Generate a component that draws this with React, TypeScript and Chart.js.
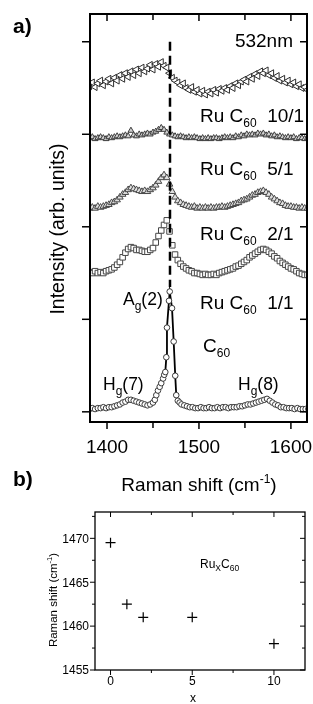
import { useEffect, useRef } from "react";
import { Chart, registerables } from "chart.js";
Chart.register(...registerables);

// ---------- panel a data ----------
const RAMAN_X = [
  1381, 1384, 1387, 1390, 1393, 1396, 1399, 1402, 1405, 1408,
  1411, 1414, 1417, 1420, 1423, 1426, 1429, 1432, 1435, 1438,
  1441, 1444, 1447, 1450, 1453, 1456, 1459, 1462, 1465, 1468,
  1471, 1474, 1477, 1480, 1483, 1486, 1489, 1492, 1495, 1498,
  1501, 1504, 1507, 1510, 1513, 1516, 1519, 1522, 1525, 1528,
  1531, 1534, 1537, 1540, 1543, 1546, 1549, 1552, 1555, 1558,
  1561, 1564, 1567, 1570, 1573, 1576, 1579, 1582, 1585, 1588,
  1591, 1594, 1597, 1600, 1603, 1606, 1609, 1612, 1615, 1618,
];
const RU_10_1 = [
  3.52, 3.56, 3.51, 3.55, 3.58, 3.53, 3.57, 3.6, 3.55, 3.61,
  3.58, 3.64, 3.6, 3.66, 3.62, 3.68, 3.64, 3.7, 3.66, 3.72,
  3.68, 3.71, 3.75, 3.7, 3.76, 3.73, 3.78, 3.74, 3.72, 3.66,
  3.61, 3.58, 3.56, 3.53, 3.55, 3.5, 3.48, 3.51, 3.46, 3.48,
  3.44, 3.47, 3.43, 3.46, 3.44, 3.48, 3.45, 3.49, 3.47, 3.5,
  3.48, 3.52, 3.5, 3.55, 3.53, 3.57, 3.59, 3.57, 3.62, 3.6,
  3.65, 3.63, 3.68, 3.66, 3.69, 3.64, 3.66, 3.61, 3.63, 3.58,
  3.6, 3.56, 3.58, 3.54, 3.56, 3.52, 3.54, 3.5, 3.51, 3.48,
];
const RU_5_1 = [
  2.96, 2.97, 2.95, 2.96, 2.97, 2.96, 2.95, 2.97, 2.96, 2.97,
  2.98, 2.97, 2.98, 2.99, 2.98, 3.04, 2.99, 2.98, 3.0, 2.99,
  3.0, 3.01, 3.0, 3.02, 3.03, 3.05, 3.07, 3.05, 3.02, 3.0,
  2.99, 2.98, 2.97, 2.98, 2.97, 2.96, 2.97, 2.96, 2.97, 2.96,
  2.95, 2.96, 2.95, 2.96, 2.95, 2.96, 2.96, 2.95, 2.96, 2.97,
  2.96, 2.97, 2.96, 2.98, 2.97, 2.99, 2.98, 3.0, 2.99, 3.0,
  2.99, 3.01, 3.0, 3.01, 2.99, 3.0, 2.98, 2.99, 2.97, 2.98,
  2.97, 2.96, 2.97, 2.96, 2.97, 2.95, 2.96, 2.96, 2.95, 2.96,
];
const RU_2_1 = [
  2.2, 2.21, 2.2, 2.22, 2.21, 2.22, 2.23, 2.24, 2.26, 2.27,
  2.29, 2.32, 2.35, 2.37, 2.4, 2.42, 2.41, 2.4, 2.39, 2.38,
  2.39, 2.38, 2.4, 2.42, 2.45, 2.49, 2.53, 2.56, 2.53, 2.46,
  2.38, 2.32, 2.28, 2.26, 2.24, 2.23, 2.22, 2.21, 2.22, 2.2,
  2.21, 2.2, 2.21, 2.2, 2.21, 2.2, 2.21, 2.21, 2.22, 2.21,
  2.22, 2.23, 2.24, 2.25, 2.26, 2.28, 2.29, 2.3, 2.32, 2.34,
  2.35, 2.37, 2.38, 2.39, 2.37, 2.35, 2.32, 2.3, 2.28, 2.26,
  2.25, 2.23, 2.22, 2.22, 2.21, 2.21, 2.2, 2.21, 2.2, 2.2,
];
const RU_1_1 = [
  1.51, 1.5, 1.52, 1.5, 1.51, 1.5, 1.52, 1.53, 1.54, 1.56,
  1.59, 1.62, 1.67, 1.72, 1.76, 1.78, 1.77, 1.75, 1.75, 1.74,
  1.73, 1.73, 1.75, 1.77, 1.83, 1.9, 1.96, 2.02, 2.07, 1.95,
  1.8, 1.7, 1.64, 1.6, 1.57, 1.55, 1.53, 1.52, 1.5, 1.5,
  1.49, 1.48, 1.49, 1.48, 1.48, 1.49, 1.48, 1.5, 1.51, 1.52,
  1.53, 1.54, 1.55, 1.57, 1.58, 1.6, 1.62, 1.64, 1.67, 1.69,
  1.71, 1.73, 1.75, 1.76, 1.75, 1.73, 1.71, 1.68, 1.66, 1.63,
  1.61, 1.59, 1.57, 1.55, 1.54, 1.52, 1.5, 1.49, 1.48, 1.48,
];
const C60_X = [
  1381, 1384, 1387, 1390, 1393, 1396, 1399, 1402, 1405, 1408,
  1411, 1414, 1417, 1420, 1423, 1426, 1429, 1432, 1435, 1438,
  1441, 1444, 1447, 1450,
  1452, 1453.6, 1455.4, 1457.3, 1459, 1461, 1462.2, 1463.4, 1464.5, 1465.2,
  1467.4, 1468.2, 1470.7, 1472.5, 1474.2, 1475.3, 1477, 1479, 1481,
  1484, 1487, 1490, 1493, 1496, 1499, 1502, 1505, 1508, 1511,
  1514, 1517, 1520, 1523, 1526, 1529, 1532, 1535, 1538, 1541,
  1544, 1547, 1550, 1553, 1556, 1559, 1562, 1565, 1568, 1571,
  1574, 1577, 1580, 1583, 1586, 1589, 1592, 1595, 1598, 1601,
  1604, 1607, 1610, 1613, 1616, 1619,
];
const C60_Y = [
  0.03, 0.04, 0.03, 0.04, 0.04, 0.05, 0.04, 0.05, 0.05, 0.06,
  0.07, 0.08, 0.1, 0.11, 0.13, 0.13, 0.12, 0.11, 0.1, 0.09,
  0.08, 0.07, 0.08, 0.1,
  0.13, 0.18, 0.23, 0.27, 0.31, 0.36, 0.4, 0.43, 0.59, 0.91,
  1.2, 1.3, 1.12, 0.76, 0.39, 0.18, 0.12, 0.1, 0.08,
  0.07, 0.06, 0.05, 0.05, 0.04, 0.04, 0.05, 0.04, 0.04, 0.05,
  0.04, 0.04, 0.05, 0.04, 0.05, 0.05, 0.04, 0.05, 0.05, 0.05,
  0.06, 0.06, 0.07, 0.08, 0.08, 0.09, 0.1, 0.11, 0.12, 0.13,
  0.14, 0.12, 0.1, 0.08, 0.07, 0.05, 0.05, 0.04, 0.04, 0.04,
  0.03, 0.04, 0.03, 0.03, 0.03, 0.03,
];
const AG2_LINE_X = [1468.5, 1468.5];
const AG2_LINE_Y = [4.0, 1.35];
const A_X_TICKS = [1400, 1500, 1600];
const A_X_MINOR = [1450, 1550];
const A_Y_TICKS = [0, 1, 2, 3, 4];

// ---------- panel b data ----------
const COMPOSITION_X = [0, 1, 2, 5, 10];
const SHIFT_Y = [1469.5, 1462.5, 1461, 1461, 1458];
const B_X_TICKS = [0, 5, 10];
const B_X_MINOR = [2.5, 7.5];
const B_Y_TICKS = [1455, 1460, 1465, 1470];
const B_Y_MINOR = [1457.5, 1462.5, 1467.5, 1472.5];

const FONT = '"Liberation Sans", Arial, Helvetica, sans-serif';

type Run = { t: string; size: number; dy?: number; bold?: boolean };

function fontOf(r: Run) {
  return `${r.bold ? "bold " : ""}${r.size}px ${FONT}`;
}
function drawRuns(ctx: CanvasRenderingContext2D, runs: Run[], x: number, y: number, align: "left" | "center" | "right") {
  let w = 0;
  for (const r of runs) {
    ctx.font = fontOf(r);
    w += ctx.measureText(r.t).width;
  }
  let cx = align === "left" ? x : align === "center" ? x - w / 2 : x - w;
  ctx.textAlign = "left";
  ctx.textBaseline = "alphabetic";
  ctx.fillStyle = "#000";
  for (const r of runs) {
    ctx.font = fontOf(r);
    ctx.fillText(r.t, cx, y + (r.dy || 0));
    cx += ctx.measureText(r.t).width;
  }
}
function drawRotated(ctx: CanvasRenderingContext2D, runs: Run[], x: number, y: number) {
  ctx.save();
  ctx.translate(x, y);
  ctx.rotate(-Math.PI / 2);
  drawRuns(ctx, runs, 0, 0, "center");
  ctx.restore();
}
function seg(ctx: CanvasRenderingContext2D, x1: number, y1: number, x2: number, y2: number) {
  ctx.beginPath();
  ctx.moveTo(x1, y1);
  ctx.lineTo(x2, y2);
  ctx.stroke();
}
const pairs = (xs: number[], ys: number[]) => xs.map((x, i) => ({ x, y: ys[i] }));

const panelAPlugin = {
  id: "panelA",
  afterDraw(chart: any) {
    const ctx: CanvasRenderingContext2D = chart.ctx;
    const xs = chart.scales.x;
    const ys = chart.scales.y;
    const { left, right, top, bottom } = chart.chartArea;
    ctx.save();
    ctx.strokeStyle = "#000";
    ctx.lineWidth = 1.5;
    for (const v of A_X_TICKS) {
      const p = xs.getPixelForValue(v);
      seg(ctx, p, bottom, p, bottom + 7);
      seg(ctx, p, top, p, top + 7);
    }
    for (const v of A_X_MINOR) {
      const p = xs.getPixelForValue(v);
      seg(ctx, p, bottom, p, bottom + 6);
      seg(ctx, p, top, p, top + 6);
    }
    for (const v of A_Y_TICKS) {
      const p = ys.getPixelForValue(v);
      seg(ctx, left - 8, p, left, p);
      seg(ctx, right - 7, p, right, p);
    }
    ctx.lineWidth = 2;
    ctx.strokeRect(left, top, right - left, bottom - top);

    for (const v of A_X_TICKS) {
      drawRuns(ctx, [{ t: String(v), size: 19 }], xs.getPixelForValue(v), 453, "center");
    }
    drawRuns(ctx, [{ t: "a)", size: 21, bold: true }], 13, 33, "left");
    drawRuns(ctx, [{ t: "b)", size: 21, bold: true }], 13, 486, "left");
    drawRotated(ctx, [{ t: "Intensity (arb. units)", size: 19.5 }], 64, 229);
    drawRuns(
      ctx,
      [
        { t: "Raman shift (cm", size: 19 },
        { t: "-1", size: 12, dy: -8 },
        { t: ")", size: 19 },
      ],
      199,
      491,
      "center"
    );
    drawRuns(ctx, [{ t: "532nm", size: 19 }], 293, 47, "right");
    const ru = (ratio: string, base: number) =>
      drawRuns(
        ctx,
        [
          { t: "Ru C", size: 19 },
          { t: "60", size: 12, dy: 5 },
          { t: "  " + ratio, size: 19 },
        ],
        200,
        base,
        "left"
      );
    ru("10/1", 122);
    ru("5/1", 175);
    ru("2/1", 240);
    ru("1/1", 309);
    drawRuns(ctx, [{ t: "C", size: 19 }, { t: "60", size: 12, dy: 5 }], 203, 352, "left");
    drawRuns(ctx, [{ t: "A", size: 17.5 }, { t: "g", size: 12, dy: 5 }, { t: "(2)", size: 17.5 }], 123, 305, "left");
    drawRuns(ctx, [{ t: "H", size: 17.5 }, { t: "g", size: 12, dy: 5 }, { t: "(7)", size: 17.5 }], 103, 390, "left");
    drawRuns(ctx, [{ t: "H", size: 17.5 }, { t: "g", size: 12, dy: 5 }, { t: "(8)", size: 17.5 }], 238, 390, "left");
    ctx.restore();
  },
};

const panelBPlugin = {
  id: "panelB",
  afterDraw(chart: any) {
    const ctx: CanvasRenderingContext2D = chart.ctx;
    const xs = chart.scales.x;
    const ys = chart.scales.y;
    const { left, right, top, bottom } = chart.chartArea;
    ctx.save();
    ctx.strokeStyle = "#000";
    ctx.lineWidth = 1;
    for (const v of B_X_TICKS) {
      const p = xs.getPixelForValue(v);
      seg(ctx, p, bottom, p, bottom + 5);
      seg(ctx, p, top, p, top + 5);
    }
    for (const v of B_X_MINOR) {
      const p = xs.getPixelForValue(v);
      seg(ctx, p, bottom, p, bottom + 3);
      seg(ctx, p, top, p, top + 3);
    }
    for (const v of B_Y_TICKS) {
      const p = ys.getPixelForValue(v);
      seg(ctx, left - 5, p, left, p);
      seg(ctx, right - 5, p, right, p);
    }
    for (const v of B_Y_MINOR) {
      const p = ys.getPixelForValue(v);
      seg(ctx, left - 3, p, left, p);
      seg(ctx, right - 3, p, right, p);
    }
    ctx.lineWidth = 1.3;
    ctx.strokeRect(left, top, right - left, bottom - top);
    for (const v of B_Y_TICKS) {
      drawRuns(ctx, [{ t: String(v), size: 12 }], left - 6, ys.getPixelForValue(v) + 4.3, "right");
    }
    for (const v of B_X_TICKS) {
      drawRuns(ctx, [{ t: String(v), size: 12 }], xs.getPixelForValue(v), 685, "center");
    }
    drawRuns(ctx, [{ t: "x", size: 12 }], 193, 702, "center");
    drawRotated(
      ctx,
      [
        { t: "Raman shift (cm", size: 11.5 },
        { t: "-1", size: 7.5, dy: -5 },
        { t: ")", size: 11.5 },
      ],
      57,
      600
    );
    drawRuns(
      ctx,
      [
        { t: "Ru", size: 12 },
        { t: "X", size: 8.5, dy: 3 },
        { t: "C", size: 12 },
        { t: "60", size: 8.5, dy: 3 },
      ],
      200,
      568,
      "left"
    );
    ctx.restore();
  },
};

export default function App() {
  const refA = useRef<HTMLCanvasElement>(null);
  const refB = useRef<HTMLCanvasElement>(null);

  useEffect(() => {
    const markerBase = { showLine: false, borderWidth: 1, pointBorderWidth: 1, clip: 1 };
    const chartA = new Chart(refA.current as HTMLCanvasElement, {
      type: "line",
      data: {
        datasets: [
          {
            label: "Ag(2) position",
            data: pairs(AG2_LINE_X, AG2_LINE_Y),
            showLine: true,
            borderColor: "#000",
            borderWidth: 2.5,
            borderDash: [9, 5],
            pointRadius: 0,
          },
          {
            ...markerBase,
            label: "Ru C60 10/1",
            data: pairs(RAMAN_X, RU_10_1),
            pointStyle: "triangle",
            rotation: -90,
            pointRadius: 4,
            pointBorderColor: "#2e2e2e",
            pointBackgroundColor: "#ffffff",
          },
          {
            ...markerBase,
            label: "Ru C60 5/1",
            data: pairs(RAMAN_X, RU_5_1),
            pointStyle: "triangle",
            pointRadius: 3.4,
            pointBorderColor: "#3c3c3c",
            pointBackgroundColor: "#cfcfcf",
          },
          {
            ...markerBase,
            label: "Ru C60 2/1",
            data: pairs(RAMAN_X, RU_2_1),
            pointStyle: "triangle",
            pointRadius: 3.8,
            pointBorderColor: "#474747",
            pointBackgroundColor: "#e0e0e0",
          },
          {
            ...markerBase,
            label: "Ru C60 1/1",
            data: pairs(RAMAN_X, RU_1_1),
            pointStyle: "rect",
            pointRadius: 3.9,
            pointBorderColor: "#474747",
            pointBackgroundColor: "#ffffff",
          },
          {
            label: "C60",
            data: pairs(C60_X, C60_Y),
            showLine: true,
            borderColor: "#000",
            borderWidth: 1.8,
            tension: 0,
            pointStyle: "circle",
            pointRadius: 2.8,
            pointBorderWidth: 1,
            pointBorderColor: "#3a3a3a",
            pointBackgroundColor: "#ffffff",
            clip: 1,
          },
        ],
      },
      options: {
        responsive: false,
        animation: false,
        devicePixelRatio: 1,
        events: [],
        layout: { padding: { left: 90, right: 6, top: 14, bottom: 282 } },
        scales: {
          x: { type: "linear", min: 1381.5, max: 1617.5, display: false },
          y: { type: "linear", min: -0.11, max: 4.3, display: false },
        },
        plugins: { legend: { display: false }, tooltip: { enabled: false } },
      },
      plugins: [panelAPlugin],
    } as any);

    const chartB = new Chart(refB.current as HTMLCanvasElement, {
      type: "scatter",
      data: {
        datasets: [
          {
            label: "RuxC60",
            data: pairs(COMPOSITION_X, SHIFT_Y),
            pointStyle: "cross",
            pointRadius: 5,
            pointBorderWidth: 1.2,
            pointBorderColor: "#000",
            pointBackgroundColor: "#000",
          },
        ],
      },
      options: {
        responsive: false,
        animation: false,
        devicePixelRatio: 1,
        events: [],
        layout: { padding: { left: 95, right: 8, top: 512, bottom: 34 } },
        scales: {
          x: { type: "linear", min: -0.95, max: 11.9, display: false },
          y: { type: "linear", min: 1455, max: 1473, display: false },
        },
        plugins: { legend: { display: false }, tooltip: { enabled: false } },
      },
      plugins: [panelBPlugin],
    } as any);

    return () => {
      chartA.destroy();
      chartB.destroy();
    };
  }, []);

  return (
    <div style={{ position: "absolute", left: 0, top: 0, width: 313, height: 704, background: "#fff" }}>
      <canvas ref={refA} width={313} height={704} style={{ position: "absolute", left: 0, top: 0, width: 313, height: 704 }} />
      <canvas ref={refB} width={313} height={704} style={{ position: "absolute", left: 0, top: 0, width: 313, height: 704 }} />
    </div>
  );
}
